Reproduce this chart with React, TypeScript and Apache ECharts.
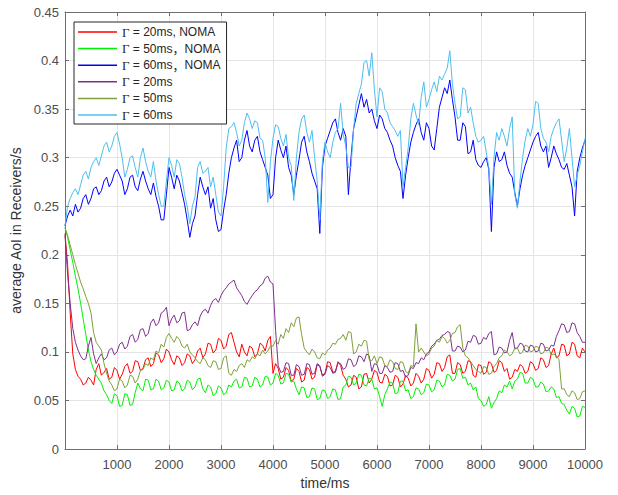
import React, { useEffect, useRef } from "react";
import * as echarts from "echarts";

const timeMs = [
  0, 50, 100, 150, 200, 250, 300, 350, 400, 450,
  500, 550, 600, 650, 700, 750, 800, 850, 900, 950,
  1000, 1050, 1100, 1150, 1200, 1250, 1300, 1350, 1400, 1450,
  1500, 1550, 1600, 1650, 1700, 1750, 1800, 1850, 1900, 1950,
  2000, 2050, 2100, 2150, 2200, 2250, 2300, 2350, 2400, 2450,
  2500, 2550, 2600, 2650, 2700, 2750, 2800, 2850, 2900, 2950,
  3000, 3050, 3100, 3150, 3200, 3250, 3300, 3350, 3400, 3450,
  3500, 3550, 3600, 3650, 3700, 3750, 3800, 3850, 3900, 3950,
  4000, 4050, 4100, 4150, 4200, 4250, 4300, 4350, 4400, 4450,
  4500, 4550, 4600, 4650, 4700, 4750, 4800, 4850, 4900, 4950,
  5000, 5050, 5100, 5150, 5200, 5250, 5300, 5350, 5400, 5450,
  5500, 5550, 5600, 5650, 5700, 5750, 5800, 5850, 5900, 5950,
  6000, 6050, 6100, 6150, 6200, 6250, 6300, 6350, 6400, 6450,
  6500, 6550, 6600, 6650, 6700, 6750, 6800, 6850, 6900, 6950,
  7000, 7050, 7100, 7150, 7200, 7250, 7300, 7350, 7400, 7450,
  7500, 7550, 7600, 7650, 7700, 7750, 7800, 7850, 7900, 7950,
  8000, 8050, 8100, 8150, 8200, 8250, 8300, 8350, 8400, 8450,
  8500, 8550, 8600, 8650, 8700, 8750, 8800, 8850, 8900, 8950,
  9000, 9050, 9100, 9150, 9200, 9250, 9300, 9350, 9400, 9450,
  9500, 9550, 9600, 9650, 9700, 9750, 9800, 9850, 9900, 9950,
  10000,
];

const red20Noma = [
  0.222, 0.190, 0.140, 0.098, 0.082, 0.075, 0.072, 0.066, 0.068, 0.074,
  0.071, 0.066, 0.082, 0.088, 0.076, 0.079, 0.083, 0.072, 0.074, 0.084,
  0.081, 0.072, 0.077, 0.085, 0.088, 0.078, 0.080, 0.091, 0.090, 0.081,
  0.083, 0.092, 0.094, 0.085, 0.088, 0.099, 0.097, 0.089, 0.093, 0.103,
  0.100, 0.092, 0.087, 0.096, 0.094, 0.086, 0.089, 0.098, 0.096, 0.088,
  0.092, 0.101, 0.104, 0.094, 0.098, 0.109, 0.108, 0.099, 0.102, 0.114,
  0.112, 0.103, 0.106, 0.118, 0.120, 0.110, 0.100, 0.095, 0.108, 0.100,
  0.096, 0.106, 0.104, 0.095, 0.098, 0.109, 0.107, 0.101, 0.112, 0.116,
  0.078, 0.088, 0.083, 0.072, 0.074, 0.084, 0.081, 0.070, 0.072, 0.083,
  0.080, 0.069, 0.071, 0.084, 0.082, 0.072, 0.074, 0.087, 0.085, 0.076,
  0.078, 0.090, 0.089, 0.079, 0.080, 0.090, 0.086, 0.076, 0.072, 0.064,
  0.066, 0.076, 0.074, 0.062, 0.064, 0.077, 0.078, 0.068, 0.072, 0.081,
  0.079, 0.069, 0.068, 0.077, 0.075, 0.065, 0.066, 0.076, 0.074, 0.064,
  0.067, 0.076, 0.073, 0.065, 0.068, 0.078, 0.075, 0.068, 0.072, 0.083,
  0.081, 0.073, 0.077, 0.089, 0.088, 0.080, 0.084, 0.095, 0.097, 0.078,
  0.078, 0.089, 0.087, 0.078, 0.080, 0.091, 0.090, 0.076, 0.074, 0.087,
  0.086, 0.077, 0.079, 0.090, 0.088, 0.079, 0.081, 0.091, 0.089, 0.080,
  0.083, 0.072, 0.074, 0.082, 0.080, 0.087, 0.085, 0.078, 0.080, 0.090,
  0.088, 0.081, 0.083, 0.094, 0.092, 0.084, 0.086, 0.098, 0.104, 0.094,
  0.096, 0.108, 0.107, 0.096, 0.098, 0.110, 0.108, 0.096, 0.094, 0.104,
  0.100,
];

const green50Noma = [
  0.228, 0.218, 0.205, 0.192, 0.178, 0.165, 0.150, 0.134, 0.118, 0.102,
  0.090, 0.082, 0.076, 0.072, 0.068, 0.060, 0.056, 0.050, 0.047, 0.057,
  0.055, 0.044, 0.045, 0.057, 0.056, 0.045, 0.046, 0.058, 0.068, 0.062,
  0.060, 0.072, 0.071, 0.061, 0.062, 0.072, 0.070, 0.061, 0.063, 0.071,
  0.069, 0.060, 0.061, 0.070, 0.068, 0.060, 0.062, 0.071, 0.069, 0.061,
  0.064, 0.072, 0.073, 0.062, 0.058, 0.066, 0.064, 0.055, 0.057, 0.065,
  0.063, 0.056, 0.058, 0.066, 0.064, 0.070, 0.072, 0.063, 0.064, 0.074,
  0.073, 0.064, 0.065, 0.074, 0.072, 0.064, 0.066, 0.075, 0.074, 0.066,
  0.068, 0.078, 0.076, 0.067, 0.068, 0.078, 0.077, 0.069, 0.070, 0.062,
  0.056, 0.064, 0.063, 0.053, 0.054, 0.063, 0.062, 0.051, 0.052, 0.061,
  0.060, 0.052, 0.054, 0.062, 0.061, 0.051, 0.052, 0.064, 0.066, 0.075,
  0.074, 0.066, 0.068, 0.077, 0.076, 0.066, 0.065, 0.073, 0.072, 0.062,
  0.063, 0.054, 0.044, 0.056, 0.062, 0.069, 0.068, 0.057, 0.058, 0.070,
  0.070, 0.060, 0.061, 0.052, 0.054, 0.063, 0.062, 0.056, 0.058, 0.067,
  0.066, 0.059, 0.061, 0.071, 0.070, 0.064, 0.066, 0.077, 0.076, 0.070,
  0.072, 0.082, 0.083, 0.073, 0.074, 0.066, 0.068, 0.061, 0.064, 0.052,
  0.050, 0.044, 0.046, 0.054, 0.042, 0.048, 0.052, 0.060, 0.058, 0.066,
  0.064, 0.070, 0.062, 0.070, 0.072, 0.079, 0.078, 0.068, 0.068, 0.074,
  0.072, 0.064, 0.064, 0.069, 0.067, 0.059, 0.060, 0.064, 0.062, 0.053,
  0.054, 0.047, 0.046, 0.040, 0.036, 0.044, 0.042, 0.033, 0.034, 0.044,
  0.043,
];

const blue60Noma = [
  0.230, 0.240, 0.246, 0.240, 0.252, 0.244, 0.248, 0.258, 0.262, 0.252,
  0.258, 0.268, 0.270, 0.262, 0.266, 0.276, 0.280, 0.270, 0.275, 0.284,
  0.288, 0.282, 0.276, 0.262, 0.268, 0.280, 0.282, 0.270, 0.266, 0.278,
  0.286, 0.276, 0.268, 0.262, 0.274, 0.260, 0.250, 0.236, 0.236, 0.262,
  0.290, 0.280, 0.268, 0.282, 0.276, 0.264, 0.252, 0.236, 0.218, 0.232,
  0.240, 0.262, 0.280, 0.270, 0.262, 0.270, 0.248, 0.258, 0.236, 0.224,
  0.226, 0.246, 0.262, 0.284, 0.300, 0.310, 0.318, 0.296, 0.300, 0.318,
  0.328, 0.312, 0.306, 0.318, 0.322, 0.306, 0.298, 0.290, 0.282, 0.258,
  0.262, 0.300, 0.318, 0.308, 0.300, 0.312, 0.290, 0.282, 0.262, 0.282,
  0.298, 0.316, 0.322, 0.306, 0.296, 0.284, 0.276, 0.268, 0.222, 0.290,
  0.312, 0.320, 0.328, 0.336, 0.340, 0.326, 0.318, 0.330, 0.322, 0.262,
  0.300, 0.330, 0.342, 0.354, 0.366, 0.352, 0.360, 0.346, 0.350, 0.338,
  0.330, 0.344, 0.340, 0.330, 0.326, 0.318, 0.312, 0.300, 0.292, 0.286,
  0.258, 0.282, 0.300, 0.316, 0.326, 0.334, 0.340, 0.326, 0.318, 0.336,
  0.330, 0.312, 0.308, 0.330, 0.352, 0.362, 0.372, 0.366, 0.380, 0.360,
  0.342, 0.318, 0.318, 0.336, 0.332, 0.304, 0.306, 0.318, 0.298, 0.292,
  0.290, 0.296, 0.300, 0.288, 0.224, 0.290, 0.306, 0.296, 0.298, 0.306,
  0.292, 0.284, 0.280, 0.264, 0.250, 0.268, 0.282, 0.292, 0.300, 0.308,
  0.316, 0.322, 0.326, 0.312, 0.306, 0.312, 0.290, 0.300, 0.312, 0.304,
  0.298, 0.290, 0.288, 0.294, 0.282, 0.270, 0.240, 0.286, 0.300, 0.310,
  0.318,
];

const purple20 = [
  0.220, 0.180, 0.150, 0.124, 0.110, 0.102, 0.096, 0.092, 0.093, 0.106,
  0.115, 0.098, 0.088, 0.094, 0.098, 0.092, 0.094, 0.102, 0.104, 0.097,
  0.100, 0.108, 0.110, 0.103, 0.106, 0.116, 0.118, 0.110, 0.113, 0.123,
  0.124, 0.116, 0.119, 0.130, 0.134, 0.127, 0.130, 0.140, 0.142, 0.146,
  0.127, 0.134, 0.138, 0.130, 0.132, 0.140, 0.141, 0.122, 0.123, 0.128,
  0.131, 0.127, 0.137, 0.142, 0.144, 0.140, 0.148, 0.153, 0.155, 0.151,
  0.158, 0.163, 0.166, 0.170, 0.172, 0.174, 0.166, 0.162, 0.158, 0.152,
  0.149, 0.154, 0.158, 0.162, 0.164, 0.168, 0.170, 0.176, 0.178, 0.172,
  0.170, 0.122, 0.086, 0.079, 0.080, 0.089, 0.088, 0.076, 0.076, 0.087,
  0.085, 0.076, 0.077, 0.088, 0.087, 0.077, 0.078, 0.088, 0.086, 0.075,
  0.077, 0.086, 0.084, 0.078, 0.079, 0.089, 0.088, 0.082, 0.084, 0.093,
  0.092, 0.085, 0.087, 0.096, 0.095, 0.090, 0.098, 0.096, 0.080, 0.088,
  0.087, 0.078, 0.078, 0.086, 0.084, 0.079, 0.080, 0.089, 0.088, 0.080,
  0.081, 0.074, 0.076, 0.084, 0.083, 0.089, 0.088, 0.094, 0.092, 0.098,
  0.100, 0.106, 0.108, 0.112, 0.113, 0.117, 0.118, 0.121, 0.120, 0.101,
  0.101, 0.106, 0.105, 0.100, 0.102, 0.111, 0.110, 0.117, 0.116, 0.108,
  0.109, 0.115, 0.113, 0.119, 0.121, 0.097, 0.098, 0.105, 0.104, 0.099,
  0.100, 0.112, 0.120, 0.103, 0.104, 0.109, 0.108, 0.101, 0.100, 0.107,
  0.106, 0.100, 0.101, 0.109, 0.108, 0.101, 0.102, 0.107, 0.106, 0.116,
  0.122, 0.129, 0.128, 0.120, 0.121, 0.130, 0.129, 0.120, 0.116, 0.110,
  0.110,
];

const olive50 = [
  0.228, 0.220, 0.210, 0.200, 0.190, 0.181, 0.172, 0.165, 0.157, 0.150,
  0.140, 0.120, 0.110, 0.106, 0.102, 0.088, 0.078, 0.070, 0.066, 0.060,
  0.062, 0.072, 0.070, 0.063, 0.066, 0.076, 0.075, 0.068, 0.072, 0.081,
  0.082, 0.088, 0.086, 0.094, 0.092, 0.101, 0.099, 0.108, 0.105, 0.115,
  0.119, 0.114, 0.110, 0.116, 0.113, 0.106, 0.104, 0.108, 0.100, 0.097,
  0.094, 0.090, 0.088, 0.094, 0.092, 0.086, 0.084, 0.091, 0.090, 0.082,
  0.083, 0.094, 0.096, 0.078, 0.076, 0.082, 0.080, 0.086, 0.088, 0.084,
  0.092, 0.090, 0.095, 0.093, 0.098, 0.096, 0.102, 0.098, 0.101, 0.106,
  0.106, 0.112, 0.108, 0.118, 0.114, 0.124, 0.120, 0.130, 0.126, 0.135,
  0.136, 0.118, 0.104, 0.100, 0.097, 0.103, 0.100, 0.094, 0.093, 0.099,
  0.097, 0.102, 0.104, 0.109, 0.108, 0.113, 0.114, 0.118, 0.112, 0.121,
  0.120, 0.098, 0.100, 0.108, 0.106, 0.112, 0.111, 0.092, 0.091, 0.096,
  0.088, 0.095, 0.094, 0.086, 0.085, 0.092, 0.090, 0.083, 0.082, 0.090,
  0.089, 0.080, 0.078, 0.086, 0.085, 0.129, 0.100, 0.104, 0.100, 0.096,
  0.098, 0.104, 0.106, 0.112, 0.110, 0.116, 0.114, 0.109, 0.112, 0.119,
  0.120, 0.126, 0.128, 0.104, 0.096, 0.094, 0.090, 0.086, 0.082, 0.080,
  0.078, 0.085, 0.084, 0.077, 0.078, 0.085, 0.088, 0.094, 0.096, 0.102,
  0.100, 0.096, 0.098, 0.104, 0.104, 0.098, 0.100, 0.107, 0.106, 0.100,
  0.101, 0.106, 0.105, 0.098, 0.099, 0.105, 0.104, 0.097, 0.098, 0.096,
  0.092, 0.062, 0.062, 0.056, 0.054, 0.060, 0.058, 0.051, 0.052, 0.059,
  0.060,
];

const cyan60 = [
  0.230, 0.250, 0.258, 0.264, 0.268, 0.262, 0.272, 0.282, 0.286, 0.278,
  0.290, 0.296, 0.300, 0.292, 0.302, 0.312, 0.316, 0.306, 0.312, 0.322,
  0.326, 0.314, 0.300, 0.280, 0.288, 0.300, 0.302, 0.290, 0.280, 0.300,
  0.310, 0.296, 0.286, 0.280, 0.296, 0.276, 0.262, 0.250, 0.250, 0.276,
  0.300, 0.292, 0.280, 0.298, 0.294, 0.280, 0.262, 0.250, 0.232, 0.250,
  0.260, 0.290, 0.296, 0.284, 0.286, 0.290, 0.270, 0.280, 0.262, 0.244,
  0.240, 0.270, 0.310, 0.330, 0.332, 0.336, 0.326, 0.312, 0.318, 0.336,
  0.346, 0.340, 0.330, 0.338, 0.336, 0.320, 0.318, 0.300, 0.254, 0.296,
  0.320, 0.334, 0.332, 0.320, 0.312, 0.324, 0.300, 0.292, 0.256, 0.300,
  0.326, 0.340, 0.344, 0.326, 0.316, 0.328, 0.300, 0.276, 0.236, 0.296,
  0.316, 0.306, 0.300, 0.316, 0.326, 0.330, 0.356, 0.324, 0.312, 0.290,
  0.290, 0.330, 0.356, 0.366, 0.376, 0.398, 0.400, 0.384, 0.408, 0.370,
  0.342, 0.372, 0.368, 0.350, 0.346, 0.336, 0.332, 0.328, 0.322, 0.328,
  0.270, 0.290, 0.310, 0.340, 0.356, 0.344, 0.334, 0.362, 0.378, 0.352,
  0.360, 0.370, 0.378, 0.368, 0.384, 0.380, 0.386, 0.392, 0.410, 0.376,
  0.356, 0.340, 0.342, 0.372, 0.370, 0.346, 0.352, 0.336, 0.322, 0.316,
  0.318, 0.322, 0.306, 0.290, 0.252, 0.300, 0.326, 0.318, 0.330, 0.322,
  0.312, 0.330, 0.342, 0.262, 0.248, 0.276, 0.300, 0.318, 0.330, 0.322,
  0.334, 0.358, 0.356, 0.330, 0.320, 0.316, 0.306, 0.322, 0.330, 0.336,
  0.340, 0.318, 0.296, 0.310, 0.330, 0.300, 0.270, 0.282, 0.292, 0.306,
  0.320,
];

const seriesNames = [
  "Γ = 20ms, NOMA",
  "Γ = 50ms，NOMA",
  "Γ = 60ms，NOMA",
  "Γ = 20ms",
  "Γ = 50ms",
  "Γ = 60ms",
];
const seriesColors = ["#ff0000", "#00f000", "#0000ff", "#7e2f8e", "#7fa03a", "#4dbeee"];
const seriesValues = [red20Noma, green50Noma, blue60Noma, purple20, olive50, cyan60];

const FONT = "'Liberation Sans', Arial, Helvetica, sans-serif";

export default function App() {
  const ref = useRef<HTMLDivElement>(null);

  useEffect(() => {
    if (!ref.current) return;
    const chart = echarts.init(ref.current, null, { renderer: "svg" });
    const axisColor = "#6f6f6f";
    const labelColor = "#4d4d4d";
    const gridColor = "#e4e4e4";

    const series = seriesNames.map((name, i) => ({
      name,
      type: "line",
      data: timeMs.map((t, k) => [t, seriesValues[i][k]]),
      symbol: "none",
      showSymbol: false,
      lineStyle: { color: seriesColors[i], width: 1 },
      itemStyle: { color: seriesColors[i] },
      xAxisIndex: 0,
      yAxisIndex: 0,
      z: 2 + i,
    }));

    chart.setOption({
      animation: false,
      backgroundColor: "#ffffff",
      grid: { left: 65, right: 33, top: 12, bottom: 44.5, containLabel: false },
      xAxis: [
        {
          type: "value",
          min: 0,
          max: 10000,
          interval: 1000,
          position: "bottom",
          name: "time/ms",
          nameLocation: "middle",
          nameGap: 25,
          nameTextStyle: { color: "#333", fontFamily: FONT, fontSize: 14 },
          axisLine: { show: true, onZero: false, lineStyle: { color: axisColor, width: 1 } },
          axisTick: { show: true, inside: true, length: 4, lineStyle: { color: axisColor } },
          axisLabel: {
            color: labelColor,
            fontFamily: FONT,
            fontSize: 13,
            margin: 9,
            showMinLabel: false,
            formatter: (v: number) => String(v),
          },
          splitLine: { show: true, lineStyle: { color: gridColor, width: 1 } },
        },
        {
          type: "value",
          min: 0,
          max: 10000,
          interval: 1000,
          position: "top",
          axisLine: { show: true, onZero: false, lineStyle: { color: axisColor, width: 1 } },
          axisTick: { show: true, inside: true, length: 4, lineStyle: { color: axisColor } },
          axisLabel: { show: false },
          splitLine: { show: false },
        },
      ],
      yAxis: [
        {
          type: "value",
          min: 0,
          max: 0.45,
          interval: 0.05,
          position: "left",
          name: "average AoI in Receivers/s",
          nameLocation: "middle",
          nameGap: 40,
          nameTextStyle: { color: "#333", fontFamily: FONT, fontSize: 14 },
          axisLine: { show: true, onZero: false, lineStyle: { color: axisColor, width: 1 } },
          axisTick: { show: true, inside: true, length: 4, lineStyle: { color: axisColor } },
          axisLabel: {
            color: labelColor,
            fontFamily: FONT,
            fontSize: 13,
            margin: 6,
            formatter: (v: number) => String(+v.toFixed(2)),
          },
          splitLine: { show: true, lineStyle: { color: gridColor, width: 1 } },
        },
        {
          type: "value",
          min: 0,
          max: 0.45,
          interval: 0.05,
          position: "right",
          axisLine: { show: true, onZero: false, lineStyle: { color: axisColor, width: 1 } },
          axisTick: { show: true, inside: true, length: 4, lineStyle: { color: axisColor } },
          axisLabel: { show: false },
          splitLine: { show: false },
        },
      ],
      legend: {
        show: true,
        orient: "vertical",
        left: 74,
        top: 22,
        data: seriesNames,
        icon: "rect",
        itemWidth: 39,
        itemHeight: 1.5,
        itemGap: 2.6,
        padding: [3, 6, 2, 4],
        backgroundColor: "#ffffff",
        borderColor: "#262626",
        borderWidth: 1,
        borderRadius: 0,
        formatter: (name: string) =>
          name.replace("Γ", "{g|Γ}").replace("，", "{c|，}"),
        textStyle: {
          color: "#262626",
          fontFamily: FONT,
          fontSize: 12,
          lineHeight: 14,
          rich: {
            g: {
              fontFamily: "'Liberation Serif', 'Times New Roman', serif",
              fontSize: 13,
              color: "#262626",
            },
            c: {
              fontFamily: "'Noto Sans CJK SC', sans-serif",
              fontSize: 12,
              color: "#262626",
            },
          },
        },
      },
      series,
    });

    return () => {
      chart.dispose();
    };
  }, []);

  return (
    <div
      ref={ref}
      style={{ position: "absolute", left: 0, top: 0, width: 618, height: 495, background: "#fff" }}
    />
  );
}
